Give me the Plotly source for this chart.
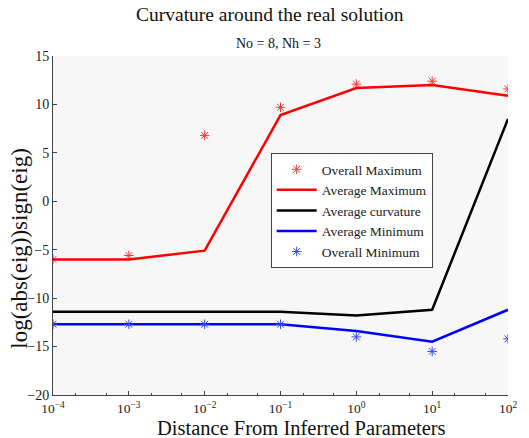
import plotly.graph_objects as go

# Distance from the inferred parameters (log scale)
distance = [1e-4, 1e-3, 1e-2, 1e-1, 1e0, 1e1, 1e2]

# Eigenvalue statistics, log(abs(eig))*sign(eig)
overall_max = [-6.0, -5.6, 6.8, 9.7, 12.1, 12.4, 11.6]
average_max = [-6.0, -6.0, -5.1, 8.9, 11.7, 12.0, 10.9]
average_curv = [-11.4, -11.4, -11.4, -11.4, -11.8, -11.2, 8.5]
average_min = [-12.7, -12.7, -12.7, -12.7, -13.4, -14.5, -11.2]
overall_min = [-12.7, -12.7, -12.7, -12.7, -14.0, -15.5, -14.2]

tick_vals = [1e-4, 1e-3, 1e-2, 1e-1, 1e0, 1e1, 1e2]
tick_text = ["10<sup>−4</sup>", "10<sup>−3</sup>", "10<sup>−2</sup>", "10<sup>−1</sup>",
             "10<sup>0</sup>", "10<sup>1</sup>", "10<sup>2</sup>"]

FONT = "Liberation Serif"

# plot-area edges in pixels
plot_l, plot_r, plot_t, plot_b = 53, 517, 56, 395
W, H = 529, 438

fig = go.Figure()
fig.add_trace(go.Scatter(
    x=distance, y=overall_max, mode="markers", name="Overall Maximum",
    legendgroup="a",
    marker=dict(symbol="asterisk-open", size=8, color="#ff3535",
                line=dict(color="#ff3535", width=1)),
))
fig.add_trace(go.Scatter(
    x=distance, y=average_max, mode="lines", name="Average Maximum",
    legendgroup="b", line=dict(color="#ff0000", width=2.5),
))
fig.add_trace(go.Scatter(
    x=distance, y=average_curv, mode="lines", name="Average curvature",
    legendgroup="c", line=dict(color="#000000", width=2.5),
))
fig.add_trace(go.Scatter(
    x=distance, y=average_min, mode="lines", name="Average Minimum",
    legendgroup="d", line=dict(color="#0000ff", width=2.5),
))
fig.add_trace(go.Scatter(
    x=distance, y=overall_min, mode="markers", name="Overall Minimum",
    legendgroup="e",
    marker=dict(symbol="asterisk-open", size=8, color="#3545ff",
                line=dict(color="#3545ff", width=1)),
))


def px_x(x):
    return (x - plot_l) / (plot_r - plot_l)


def px_y(y):
    return (plot_b - y) / (plot_b - plot_t)


def label(text, x, y, size, angle=0):
    return dict(text=text, x=px_x(x), y=px_y(y), xref="paper", yref="paper",
                xanchor="center", yanchor="middle", textangle=angle,
                showarrow=False, font=dict(family=FONT, size=size, color="#111"))


fig.update_layout(
    width=W, height=H,
    margin=dict(l=plot_l, r=W - plot_r, t=plot_t, b=H - plot_b),
    paper_bgcolor="white",
    plot_bgcolor="#f7f7f7",
    font=dict(family=FONT, color="#222"),
    showlegend=True,
    legend=dict(
        x=px_x(275), y=px_y(153), xanchor="left", yanchor="top",
        bgcolor="white", bordercolor="#444", borderwidth=1,
        font=dict(family=FONT, size=13.5, color="#222"),
        itemwidth=40, tracegroupgap=0,
    ),
    annotations=[
        label("Curvature around the real solution", 274, 15, 19.5),
        label("No = 8, Nh = 3", 283, 43, 14),
        label("Distance From Inferred Parameters", 306, 427.5, 20.5),
        label("log(abs(eig))sign(eig)", 18, 248, 23, angle=-90),
    ],
)

fig.update_xaxes(
    type="log", range=[-4, 2],
    tickvals=tick_vals, ticktext=tick_text,
    ticks="inside", ticklen=4, tickcolor="#444",
    showline=True, linecolor="#444", linewidth=1,
    showgrid=False, zeroline=False,
    tickfont=dict(family=FONT, size=13.5, color="#222"),
    ticklabelstandoff=1,
    minor=dict(ticks="inside", ticklen=2, tickcolor="#444", showgrid=False),
)
fig.update_yaxes(
    range=[-20, 15], dtick=5, tick0=0,
    ticks="inside", ticklen=4, tickcolor="#444",
    showline=True, linecolor="#444", linewidth=1,
    showgrid=False, zeroline=False,
    tickfont=dict(family=FONT, size=14, color="#222"),
)

fig.write_html("out.html")
